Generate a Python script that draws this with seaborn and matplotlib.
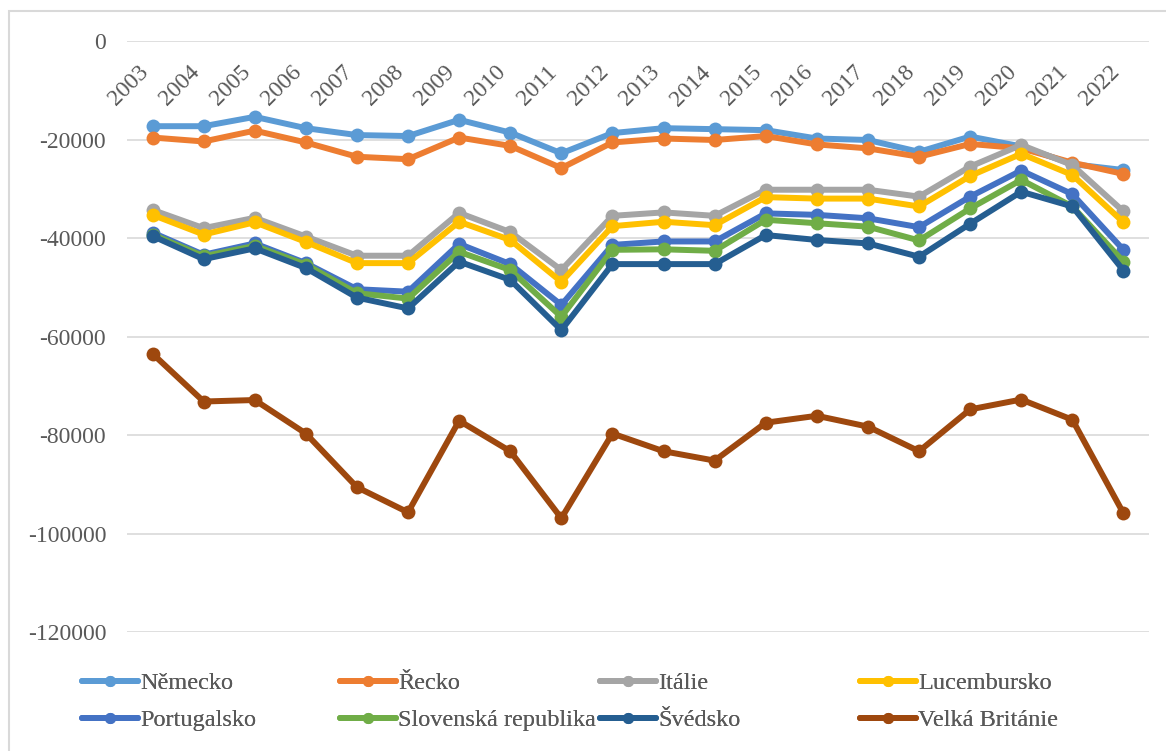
import numpy as np
import pandas as pd
import matplotlib.pyplot as plt
import seaborn as sns
from matplotlib.patches import Rectangle

#values
years = list(range(2003, 2023))
countries = ["Německo", "Řecko", "Itálie", "Lucembursko",
             "Portugalsko", "Slovenská republika", "Švédsko", "Velká Británie"]

nemecko = [-17300, -17300, -15400, -17700, -19100, -19300, -16000, -18600, -22800, -18700,
           -17700, -17900, -18100, -19800, -20100, -22500, -19400, -21400, -25000, -26200]
recko = [-19600, -20400, -18200, -20600, -23500, -24000, -19600, -21300, -25800, -20600,
         -19800, -20100, -19300, -21000, -21800, -23500, -20900, -21800, -24700, -27000]
italie = [-34300, -38000, -35900, -39700, -43600, -43600, -34900, -38800, -46500, -35500,
          -34800, -35500, -30200, -30200, -30200, -31600, -25500, -21100, -25200, -34600]
lucembursko = [-35300, -39300, -36800, -40800, -45100, -45100, -36700, -40400, -48900, -37600,
               -36700, -37400, -31700, -32000, -32000, -33600, -27400, -22900, -27200, -36800]
portugalsko = [-38900, -43400, -41100, -45100, -50400, -50900, -41200, -45300, -53600, -41400,
               -40700, -40700, -35000, -35300, -36000, -37800, -31600, -26300, -31100, -42400]
slovensko = [-39300, -43700, -41600, -45400, -51200, -52300, -42800, -46500, -56000, -42400,
             -42300, -42600, -36300, -37000, -37700, -40500, -34000, -28200, -33600, -44800]
svedsko = [-39600, -44300, -42100, -46100, -52100, -54300, -44800, -48500, -58700, -45300,
           -45300, -45300, -39400, -40400, -41100, -43800, -37100, -30600, -33600, -46600]
velka_britanie = [-63500, -73200, -72900, -79700, -90600, -95700, -77100, -83300, -96900, -79700,
                  -83300, -85200, -77500, -76100, -78300, -83300, -74800, -72800, -76900, -95900]

series = [nemecko, recko, italie, lucembursko, portugalsko, slovensko, svedsko, velka_britanie]
colors = ["#5B9BD5", "#ED7D31", "#A5A5A5", "#FFC000",
          "#4472C4", "#70AD47", "#255E91", "#9E480E"]
y_ticks = [0, -20000, -40000, -60000, -80000, -100000, -120000]

sns.set_theme(style="white")
plt.rcParams['font.family'] = ['Liberation Serif', 'DejaVu Serif']
plt.rcParams['axes.unicode_minus'] = False
text_color = "#595959"

W, H = 1166, 751
fig = plt.figure(figsize=(W / 100, H / 100), dpi=100)
ax = fig.add_axes([127 / W, 1 - 632 / H, 1022 / W, 591 / H])

#long form table for seaborn
df = pd.DataFrame({
    "rok": years * len(countries),
    "hodnota": [v for s in series for v in s],
    "zeme": [c for c in countries for _ in years],
})

for name, col in zip(countries, colors):
    sns.lineplot(data=df[df.zeme == name], x="rok", y="hodnota", color=col,
                 marker="o", markersize=10, markeredgewidth=0, linewidth=4.3,
                 label=name, ax=ax, legend=False)

ax.set_xlim(2002.5, 2022.5)
ax.set_ylim(-120000, 0)
ax.set_yticks(y_ticks)
ax.set_yticklabels([str(v) for v in y_ticks])
ax.set_xticks(years)
ax.set_xticklabels([str(y) for y in years])
ax.set_xlabel("")
ax.set_ylabel("")

ax.grid(axis="y", color="#D9D9D9", linewidth=1.2)
ax.grid(axis="x", visible=False)
for sp in ax.spines.values():
    sp.set_visible(False)

ax.tick_params(axis="y", length=0, pad=15, labelsize=17, labelcolor=text_color)
ax.tick_params(axis="x", length=0, top=True, labeltop=True, bottom=False,
               labelbottom=False, pad=-15, labelsize=17, labelcolor=text_color)
plt.setp(ax.get_xticklabels(), rotation=45, ha="right", va="top")

#legend laid out as in excel: fixed column slots, two rows
handles, labels = ax.get_legend_handles_labels()
leg_x = [82, 340, 600, 860]
leg_y = [683, 720]
for i, (h, l) in enumerate(zip(handles, labels)):
    lg = fig.legend([h], [l], loc="center left",
                    bbox_to_anchor=(leg_x[i % 4] / W, 1 - leg_y[i // 4] / H),
                    frameon=False, borderpad=0, borderaxespad=0,
                    handlelength=2.3, handletextpad=0.1, fontsize=17.5,
                    labelcolor=text_color, markerscale=0.8)
    fig.add_artist(lg)

#chart area border
fig.patches.append(Rectangle((9 / W, -0.1), 1.2, 1 - 11 / H + 0.1, transform=fig.transFigure,
                             fill=False, edgecolor="#D9D9D9", linewidth=1.5))

fig.savefig("out.png", dpi=100)
